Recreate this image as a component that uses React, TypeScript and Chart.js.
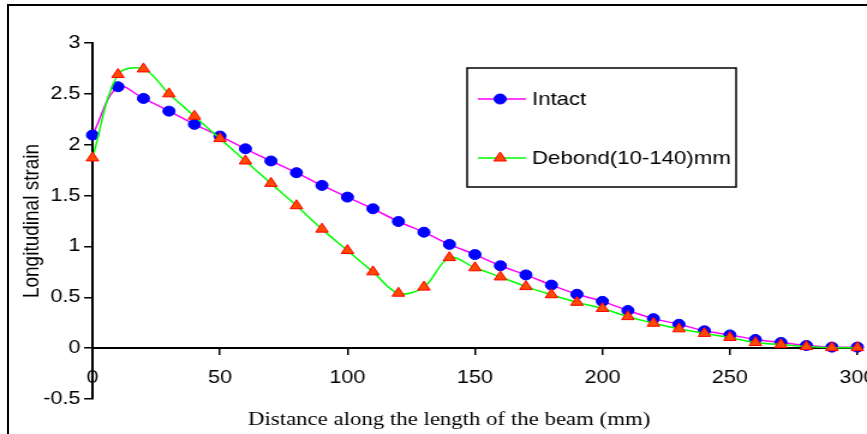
import React, { useEffect, useRef } from 'react';
import { Chart, registerables } from 'chart.js';

Chart.register(...registerables);

// ---- data ----
const DISTANCE = [0, 10, 20, 30, 40, 50, 60, 70, 80, 90, 100, 110, 120, 130, 140, 150, 160, 170, 180, 190, 200, 210, 220, 230, 240, 250, 260, 270, 280, 290, 300];
const INTACT = [2.095, 2.57, 2.455, 2.33, 2.2, 2.085, 1.96, 1.84, 1.725, 1.6, 1.485, 1.37, 1.245, 1.14, 1.02, 0.92, 0.81, 0.72, 0.62, 0.53, 0.46, 0.37, 0.29, 0.235, 0.17, 0.13, 0.085, 0.056, 0.026, 0.01, 0.01];
const DEBOND = [1.87, 2.69, 2.745, 2.5, 2.28, 2.06, 1.84, 1.62, 1.4, 1.17, 0.96, 0.75, 0.54, 0.6, 0.89, 0.79, 0.7, 0.605, 0.525, 0.45, 0.39, 0.31, 0.245, 0.19, 0.145, 0.105, 0.055, 0.035, 0.015, 0.005, 0.005];
const SERIES_NAMES = ['Intact', 'Debond(10-140)mm'];
const X_TICKS = [0, 50, 100, 150, 200, 250, 300];
const Y_TICKS = [-0.5, 0, 0.5, 1, 1.5, 2, 2.5, 3];
const X_TITLE = 'Distance along the length of the beam (mm)';
const Y_TITLE = 'Longitudinal strain';

// The reference is horizontally stretched; draw on a narrower canvas and stretch with CSS.
const VIEW_W = 867;
const VIEW_H = 434;
const CANVAS_W = 722;
const SANS = '"Liberation Sans", Arial, sans-serif';
const SERIF = '"Liberation Serif", "Times New Roman", serif';

const extrasPlugin = {
  id: 'extras',
  afterDraw(chart: any) {
    const ctx = chart.ctx;
    ctx.save();
    // x-axis title
    ctx.fillStyle = '#000';
    ctx.font = `19px ${SERIF}`;
    ctx.textAlign = 'center';
    ctx.textBaseline = 'alphabetic';
    ctx.fillText(X_TITLE, 374, 425);

    // legend
    const bx = 389, by = 68, bw = 224, bh = 119;
    ctx.fillStyle = '#fff';
    ctx.fillRect(bx, by, bw, bh);
    ctx.strokeStyle = '#000';
    ctx.lineWidth = 1.5;
    ctx.strokeRect(bx, by, bw, bh);
    const rows = [99, 158];
    chart.data.datasets.forEach((ds: any, i: number) => {
      const y = rows[i];
      ctx.strokeStyle = ds.borderColor;
      ctx.lineWidth = ds.borderWidth;
      ctx.beginPath();
      ctx.moveTo(398, y);
      ctx.lineTo(438, y);
      ctx.stroke();
      const mx = 416.5;
      ctx.fillStyle = ds.pointBackgroundColor;
      ctx.strokeStyle = ds.pointBorderColor;
      ctx.lineWidth = ds.pointBorderWidth;
      ctx.beginPath();
      if (ds.pointStyle === 'triangle') {
        const r = ds.pointRadius;
        ctx.moveTo(mx, y - r);
        ctx.lineTo(mx + r * Math.sin((2 * Math.PI) / 3), y - r * Math.cos((2 * Math.PI) / 3));
        ctx.lineTo(mx + r * Math.sin((4 * Math.PI) / 3), y - r * Math.cos((4 * Math.PI) / 3));
        ctx.closePath();
      } else {
        ctx.arc(mx, y, ds.pointRadius, 0, Math.PI * 2);
      }
      ctx.fill();
      ctx.stroke();
      ctx.fillStyle = '#000';
      ctx.font = `18.5px ${SANS}`;
      ctx.textAlign = 'left';
      ctx.textBaseline = 'middle';
      ctx.fillText(ds.label, 443, y + 1);
    });
    ctx.restore();
  },
};

export default function App() {
  const canvasRef = useRef<HTMLCanvasElement | null>(null);

  useEffect(() => {
    const canvas = canvasRef.current;
    if (!canvas) return;
    const tickFont = { family: SANS, size: 18 };
    const chart = new Chart(canvas, {
      type: 'line',
      data: {
        datasets: [
          {
            label: SERIES_NAMES[0],
            data: DISTANCE.map((x, i) => ({ x, y: INTACT[i] })),
            borderColor: '#FF00FF',
            borderWidth: 1.5,
            backgroundColor: '#0000FF',
            pointStyle: 'circle',
            pointRadius: 5,
            pointBackgroundColor: '#0000FF',
            pointBorderColor: '#0000FF',
            pointBorderWidth: 1,
            tension: 0.35,
            fill: false,
            clip: false,
            order: 1,
          },
          {
            label: SERIES_NAMES[1],
            data: DISTANCE.map((x, i) => ({ x, y: DEBOND[i] })),
            borderColor: '#00FF00',
            borderWidth: 1.5,
            backgroundColor: '#FF4A00',
            pointStyle: 'triangle',
            pointRadius: 6,
            pointBackgroundColor: '#FF4A00',
            pointBorderColor: '#FF0000',
            pointBorderWidth: 1,
            tension: 0.35,
            fill: false,
            clip: false,
            order: 0,
          },
        ],
      },
      options: {
        animation: false,
        responsive: false,
        devicePixelRatio: 1,
        events: [],
        layout: { padding: { left: 0, right: 8, top: 43, bottom: 35 } },
        plugins: {
          legend: { display: false },
          tooltip: { enabled: false },
          title: { display: false },
        },
        scales: {
          x: {
            type: 'linear',
            position: { y: 0 } as any,
            min: 0,
            max: 300,
            afterBuildTicks: (s: any) => {
              s.ticks = X_TICKS.map((v) => ({ value: v }));
            },
            afterFit: (s: any) => {
              s.paddingLeft = 0;
              s.paddingRight = 0;
            },
            ticks: {
              font: tickFont,
              color: '#000',
              padding: 13,
              maxRotation: 0,
              autoSkip: false,
              callback: (v: any) => String(v),
            },
            grid: { drawOnChartArea: false, drawTicks: true, tickLength: 6, color: '#000', lineWidth: 1.5 },
            border: { color: '#000', width: 2 },
          },
          y: {
            type: 'linear',
            min: -0.5,
            max: 3,
            afterBuildTicks: (s: any) => {
              s.ticks = Y_TICKS.map((v) => ({ value: v }));
            },
            afterFit: (s: any) => {
              s.width = 77;
            },
            ticks: {
              font: tickFont,
              color: '#000',
              padding: 3,
              callback: (v: any) => String(v),
            },
            grid: { drawOnChartArea: false, drawTicks: true, tickLength: 7, color: '#000', lineWidth: 1.5 },
            border: { color: '#000', width: 2 },
            title: {
              display: true,
              text: Y_TITLE,
              color: '#000',
              font: { family: SANS, size: 19 },
              padding: { top: 15, bottom: 0 },
            },
          },
        },
      },
      plugins: [extrasPlugin],
    } as any);
    return () => chart.destroy();
  }, []);

  return (
    <div style={{ position: 'absolute', left: 0, top: 0, width: VIEW_W, height: VIEW_H, overflow: 'hidden', background: '#fff' }}>
      <div
        style={{
          position: 'absolute',
          left: 7,
          top: 4,
          width: 1000,
          height: 600,
          borderTop: '2px solid #000',
          borderLeft: '2px solid #000',
        }}
      />
      <canvas
        ref={canvasRef}
        width={CANVAS_W}
        height={VIEW_H}
        style={{ position: 'absolute', left: 0, top: 0, width: `${VIEW_W}px`, height: `${VIEW_H}px` }}
      />
    </div>
  );
}
